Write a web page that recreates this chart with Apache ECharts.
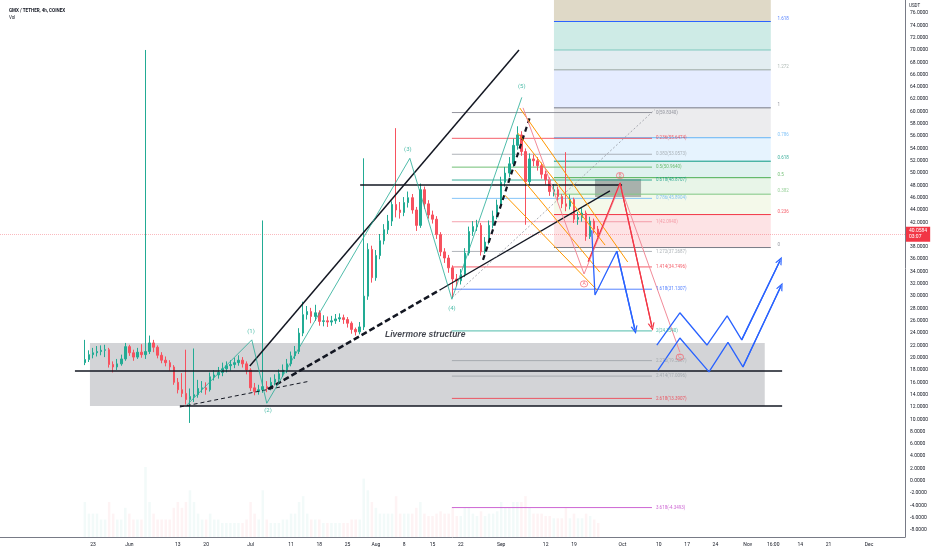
<!DOCTYPE html>
<html><head><meta charset="utf-8">
<script src="https://cdn.jsdelivr.net/npm/echarts@6/dist/echarts.min.js"></script>
<style>html,body{margin:0;padding:0;background:#fff}#c{width:932px;height:550px}</style>
</head><body><div id="c"></div>
<script>
// ---------- DATA ----------
// daily candles, x = days since 1 Jun; first candle on day -11
const firstDay = -11;
const ohlc = [ // [open, close, low, high]
[19.2,19.7,18.8,22.9],[19.7,20.5,19.3,21.2],[20.5,20.8,19.9,21.6],[20.8,21.0,20.2,21.9],[21.0,21.2,20.4,22.0],
[21.2,21.3,20.1,22.1],[21.3,18.9,18.4,21.6],[18.9,18.5,17.6,19.4],[18.5,19.0,18.0,19.8],[19.0,19.8,18.7,20.5],
[19.8,21.8,19.5,22.4],
[21.8,20.8,20.3,22.1],[20.8,20.1,19.5,21.3],[20.1,20.9,19.8,21.6],[20.9,20.5,20.0,22.2],[20.5,21.0,19.8,70.0],
[21.0,22.4,20.6,23.6],[22.4,21.7,20.9,22.9],[21.7,20.4,19.9,22.0],[20.4,19.6,19.1,20.9],[19.6,19.2,18.6,20.2],
[19.2,18.5,17.9,19.6],[18.5,16.0,15.6,18.8],[16.0,14.8,14.2,16.7],[14.8,14.2,13.6,17.5],[14.2,13.2,12.4,21.3],
[13.2,13.7,9.4,15.0],[13.7,14.0,12.8,21.5],[14.0,15.0,13.5,16.4],[15.0,15.1,14.3,16.2],[15.1,14.8,14.0,16.0],
[14.8,16.9,14.5,17.6],[16.9,17.2,16.3,18.0],[17.2,17.6,16.6,18.5],[17.6,18.2,17.0,19.2],[18.2,18.7,17.6,19.4],
[18.7,18.9,17.9,19.6],[18.9,19.2,18.3,20.0],[19.2,19.6,18.7,20.4],[19.6,19.0,18.4,20.1],[19.0,18.0,17.3,19.4],
[18.0,15.1,14.6,18.3],[15.1,14.5,13.9,15.9],[14.5,14.8,14.0,15.6],[14.8,15.3,14.3,42.3],[15.3,15.0,14.4,16.2],
[15.0,16.0,14.7,16.8],[16.0,16.5,15.5,17.3],[16.5,17.4,16.1,18.1],[17.4,18.0,16.9,18.9],[18.0,19.0,17.5,19.8],
[19.0,20.3,18.6,21.0],[20.3,21.0,19.8,21.9],[21.0,24.0,20.6,24.8],[24.0,27.0,23.5,29.1],[27.0,27.5,26.2,28.4],
[27.5,26.7,25.6,28.1],[26.7,27.3,26.0,28.6],[27.3,25.9,25.2,27.7],[25.9,26.0,25.1,26.9],[26.0,25.8,25.0,26.7],
[25.8,26.0,25.2,26.8],[26.0,26.3,25.5,27.1],[26.3,26.5,25.8,27.2],[26.5,26.2,25.5,27.0],[26.2,25.6,24.9,26.6],
[25.6,24.6,23.9,25.9],[24.6,24.2,23.6,24.9],[24.2,25.0,23.8,25.8],[25.0,30.0,24.5,52.4],[30.0,37.6,29.4,38.6],
[37.6,33.0,32.2,38.2],[33.0,36.6,32.5,37.5],[36.6,39.0,36.0,40.1],[39.0,40.8,38.4,41.7],[40.8,42.2,40.1,43.2],
[42.2,44.9,41.4,45.4],[44.9,44.0,42.8,57.3],[44.0,43.6,42.6,45.3],[43.6,45.2,43.0,46.1],[45.2,46.0,44.4,47.0],
[46.0,44.0,43.4,46.6],[44.0,41.5,40.6,44.5],[41.5,47.3,41.1,48.3],[47.3,45.0,44.2,47.8],[45.0,43.2,42.6,45.6],
[43.2,42.5,41.8,43.9],[42.5,40.0,39.3,43.0],[40.0,37.2,36.5,40.4],[37.2,36.2,35.4,37.8],[36.2,34.6,33.8,36.7],
[34.6,32.8,29.8,35.0],[32.8,32.5,31.6,33.6],[32.5,33.5,31.9,34.4],[33.5,37.0,33.1,37.8],[37.0,40.5,36.6,41.3],
[40.5,41.3,39.8,42.2],[41.3,41.5,40.6,42.4],[41.5,37.2,36.6,41.9],[37.2,38.8,36.9,39.6],[38.8,41.5,38.4,42.3],
[41.5,43.0,41.0,43.9],[43.0,44.8,42.5,45.7],[44.8,48.5,44.3,49.4],[48.5,50.0,47.8,51.0],[50.0,51.5,49.3,52.6],
[51.5,54.5,51.0,55.6],[54.5,56.2,53.8,57.6],[56.2,53.5,52.8,56.8],[53.5,48.6,41.6,54.0],[48.6,52.3,48.1,53.2],
[52.3,52.0,51.1,53.0],[52.0,51.2,50.4,52.6],[51.2,49.8,49.1,51.7],[49.8,48.9,48.1,50.4],[48.9,47.0,46.3,49.3],
[47.0,47.3,46.2,48.2],[47.3,46.2,45.5,47.8],[46.2,45.0,44.3,46.6],[45.0,44.6,43.8,53.4],[44.6,45.7,44.1,46.5],
[45.7,42.5,41.9,46.0],[42.5,42.8,41.6,43.7],[42.8,43.5,42.1,44.3],[43.5,39.7,39.0,43.9],[39.7,42.2,39.3,42.9],
[42.2,40.9,40.2,42.6],[40.9,40.06,39.6,41.4]
];
const volumes = [3,2,2,2,1.5,1.5,3,2,1.5,1.5,2.5,
2,1.5,1.5,1.5,6,3,2,1.5,1.5,1.5,
1.5,2.5,3,2.5,3,4,3,2,1.5,1.5,
2,1.5,1.5,1.2,1.2,1.2,1.2,1.2,1.2,1.5,
3,2,1.5,4,1.5,1.2,1.2,1.2,1.5,1.5,
2,2,3,3.5,2,1.5,1.5,1.5,1.2,1.2,
1.2,1.2,1.2,1.2,1.2,1.5,1.5,1.5,5,4,
3,2.5,2,2,2,2,3.5,2,2,2,
2,2.5,3,2,1.8,1.8,2,2.2,2,2,
2.5,1.8,1.8,2.5,2.5,2,1.8,2.2,1.8,2,
2,2.2,3,2.5,2.5,3,3,3,3.5,2.5,
2,2,2,1.8,1.8,1.6,1.6,1.6,2.5,1.6,
2,1.6,1.6,2,1.8,1.5,1.2];
const lastPrice = 40.0584;
const xTickDays = [-9,0,12,19,30,40,47,54,61,68,75,82,92,103,110,122,131,138,145,153,159.3,166,173,183];
const xTickLabels = ['23','Jun','13','20','Jul','11','18','25','Aug','8','15','22','Sep','12','19','Oct','10','17','24','Nov','16:00','14','21','Dec'];
const yTicks = [-8,-6,-4,-2,0,2,4,6,8,10,12,14,16,18,20,22,24,26,28,30,32,34,36,38,40,42,44,46,48,50,52,54,56,58,60,62,64,66,68,70,72,74,76];

// Fibonacci retracement (right box): low -> high
const fibR = {low: 37.9, high: 60.6, x0: 105.05, x1: 158.7, labelX: 160.0};
const fibRLevels = [0,0.236,0.382,0.5,0.618,0.786,1,1.272,1.414,1.618,2.618];
const fibRLabels = ['0','0.236','0.382','0.5','0.618','0.786','1','1.272','','1.618',''];
// Trend based fib extension (left): from start going down by step
const fibL = {start: 59.834, step: 17.74, x0: 79.8, x1: 129.3, labelX: 129.9};
const fibLLevels = [0,0.236,0.382,0.5,0.618,0.786,1,1.272,1.414,1.618,2,2.272,2.414,2.618,3.618];

// Elliott waves
const wavePts = [[14.2,12.3],[30.3,22.9],[34.0,12.6],[69.4,52.4],[79.8,29.5],[97.1,62.3]];
const waveLabels = [['(1)',30.1,24.3],['(2)',34.3,11.4],['(3)',68.9,53.9],['(4)',79.8,28.0],['(5)',97.1,64.0]];
const abcLabels = [['A',112.5,32.0],['B',121.4,49.6],['C',136.2,20.1]];

// ---------- CHART ----------
const chev = 'path://M0,10 L5,0 L10,10 L8.2,10 L5,3.6 L1.8,10 Z';
const UP='#22ab94', DN='#f7525f', BLUE='#2962ff', RED='#f23645', PINK='#f28b99', ORANGE='#ff9800', BLK='#131722';
const series = [];
const hidden = {color:'rgba(0,0,0,0)'};

function poly(pts, color, width, type, z, arrow){
  const s = {type:'line', data:pts, symbol:'none', silent:true, z:z||6,
    lineStyle:{color:color, width:width, type:type||'solid'}};
  if(arrow){
    s.markLine = {symbol:['none',chev], symbolSize:[7,8], silent:true, animation:false,
      label:{show:false}, lineStyle:{color:color, width:width, type:'solid'},
      data:[[{coord:pts[pts.length-2]},{coord:pts[pts.length-1]}]]};
  }
  series.push(s);
}
function texts(items, z){
  series.push({type:'scatter', symbolSize:1, itemStyle:hidden, silent:true, z:z||9,
    data: items.map(t=>({value:[t.x,t.y], label:Object.assign({show:true, formatter:t.text, position:t.pos||'inside',
      distance:1, fontFamily:'Roboto', fontSize:t.size||5, color:t.color||BLK}, t.style||{})}))});
}

// background areas
const areas = [];
areas.push([{coord:[-9.75,22.39], itemStyle:{color:'rgba(120,123,134,0.33)'}},{coord:[157.2,12.15]}]);
const fibRBand = ['rgba(242,54,69,0.14)','rgba(205,228,160,0.22)','rgba(76,175,80,0.13)','rgba(8,153,129,0.13)',
  'rgba(100,181,246,0.16)','rgba(120,123,134,0.14)','rgba(41,98,255,0.12)','rgba(110,165,185,0.2)',
  'rgba(8,153,129,0.2)','rgba(150,130,70,0.3)'];
for(let i=0;i<fibRLevels.length-1;i++){
  const ya = fibR.low + fibRLevels[i]*(fibR.high-fibR.low);
  const yb = fibR.low + fibRLevels[i+1]*(fibR.high-fibR.low);
  areas.push([{coord:[fibR.x0,ya], itemStyle:{color:fibRBand[i]}},{coord:[fibR.x1,yb]}]);
}
areas.push([{coord:[115.2,49.03], itemStyle:{color:'rgba(90,95,100,0.45)'}},{coord:[126.6,46.1]}]);
series.push({type:'line', data:[], z:1, markArea:{silent:true, data:areas}});

// volume
series.push({type:'bar', xAxisIndex:0, yAxisIndex:1, barWidth:2.5, silent:true, z:2,
  data: volumes.map((v,i)=>({value:[firstDay+i, v], itemStyle:{color: ohlc[i][1]>=ohlc[i][0]?'rgba(34,171,148,0.06)':'rgba(242,54,69,0.06)'}}))});

// candles
series.push({type:'candlestick', data: ohlc.map((r,i)=>[firstDay+i, r[0], r[1], r[2], r[3]]),
  encode:{x:0, y:[1,2,3,4]}, barWidth:2, z:5, silent:true,
  itemStyle:{color:UP, color0:DN, borderColor:UP, borderColor0:DN, borderWidth:1},
  markLine:{symbol:'none', silent:true, lineStyle:{color:'rgba(242,54,69,0.35)', width:1, type:'dotted'},
    label:{position:'end', formatter: lastPrice.toFixed(4)+'\n03:07', backgroundColor:RED, color:'#fff',
      fontSize:5, padding:[2,3,1,3], distance:1, lineHeight:6, fontFamily:'Roboto'},
    data:[{yAxis:lastPrice}]}});

// fib right lines + labels
const fibRColors = ['#787b86',RED,'#81c784','#4caf50','#089981','#64b5f6','#787b86','#9aa7a0','#7fc8bd',BLUE,'#b0a070'];
const fibRTexts = [];
fibRLevels.forEach((l,i)=>{
  const y = fibR.low + l*(fibR.high-fibR.low);
  poly([[fibR.x0,y],[fibR.x1,y]], fibRColors[i], 1, 'solid', 3);
  if(fibRLabels[i]) fibRTexts.push({text:fibRLabels[i], x:fibR.labelX, y:y+0.5, pos:'right', color:fibRColors[i], size:4.5});
});
texts(fibRTexts);

// fib left lines + labels
const fibLColors = ['#787b86',RED,'#9aa0a6','#4caf50','#089981','#64b5f6',PINK,'#9aa0a6',RED,BLUE,'#22ab94','#9aa0a6','#9aa0a6',RED,'#c040c8'];
const fibLTexts = [];
fibLLevels.forEach((l,i)=>{
  const y = fibL.start - l*fibL.step;
  poly([[fibL.x0,y],[fibL.x1,y]], fibLColors[i], 0.8, 'solid', 3);
  fibLTexts.push({text:l+'('+y.toFixed(4)+')', x:fibL.labelX, y:y, pos:'right', color:fibLColors[i], size:4.5});
});
texts(fibLTexts);

// structure lines
poly([[-13.46,17.84],[161.5,17.84]], BLK, 1.5);
poly([[12.5,12.15],[161.5,12.15]], BLK, 1.5);
poly([[29.8,18.67],[96.4,70.0]], BLK, 1.5);
poly([[12.5,11.99],[44.7,16.2]], BLK, 1, [4,3]);
poly([[34.3,14.91],[76.8,31.0]], BLK, 2.5, [6,3]);
poly([[76.8,31.0],[118.9,47.1]], BLK, 1.3);
poly([[57.1,48.06],[121.9,48.06]], BLK, 1.5);
poly([[87.5,35.9],[99.1,59.1]], BLK, 2.2, [5,4]);
poly([[79.8,29.7],[130.0,60.3]], '#9598a1', 0.8, [2,2]);
// waves
poly(wavePts, '#22ab94', 0.8, 'solid', 7);
// orange channel
poly([[96.6,60.57],[123.3,35.55]], ORANGE, 1, 'solid', 7);
poly([[96.1,56.5],[117.7,38.3]], ORANGE, 1, 'solid', 7);
poly([[95.4,50.5],[116.4,33.9]], ORANGE, 1, 'solid', 7);
poly([[92.9,46.4],[115.7,31.0]], ORANGE, 1, 'solid', 7);
// ABC projections
poly([[97.4,60.6],[112.5,33.6],[121.4,48.06],[136.2,20.9]], PINK, 1, 'solid', 7);
poly([[113.5,35.6],[121.4,48.4],[129.3,25.0]], RED, 1.2, 'solid', 8, true);
poly([[114.4,40.7],[115.2,30.2],[120.6,37.3],[125.1,24.5]], BLUE, 1.3, 'solid', 8, true);
poly([[130.5,22.06],[136.2,27.3],[142.9,22.06],[147.9,26.8],[151.5,22.9],[161.0,35.8]], BLUE, 1.3, 'solid', 8, true);
poly([[130.8,18.0],[136.2,23.2],[143.4,17.7],[148.1,22.5],[151.8,18.5],[161.2,31.6]], BLUE, 1.3, 'solid', 8, true);

// texts
texts(waveLabels.map(w=>({text:w[0], x:w[1], y:w[2], color:'#22ab94', size:6})), 10);
texts(abcLabels.map(w=>({text:w[0], x:w[1], y:w[2], color:DN, size:5,
  style:{borderColor:DN, borderWidth:0.8, borderRadius:5, padding:[1,2,0,2]}})), 10);
texts([{text:'Livermore structure', x:73.2, y:23.7, size:8.5, style:{fontStyle:'italic', fontWeight:'bold', fontFamily:'Liberation Sans'}}], 10);

const chart = echarts.init(document.getElementById('c'), null, {renderer:'canvas'});
chart.setOption({
  animation:false,
  backgroundColor:'#ffffff',
  title:{text:'GMX / TETHER, 4h, COINEX', left:4, top:3, itemGap:2,
    textStyle:{fontSize:4.5, fontWeight:'bold', color:BLK, fontFamily:'Roboto'},
    subtext:'Vol', subtextStyle:{fontSize:4.5, color:BLK, fontFamily:'Roboto'}},
  graphic:[{type:'text', left:909, top:3, style:{text:'USDT', fontSize:4.5, fill:BLK, fontFamily:'Roboto'}}],
  grid:{left:0, right:27, top:0, bottom:13, containLabel:false},
  xAxis:{type:'value', min:-32.0, max:191.9,
    axisLine:{show:true, onZero:false, lineStyle:{color:'#787b86', width:1}}, axisTick:{show:false}, splitLine:{show:false},
    axisLabel:{customValues:xTickDays, fontSize:5, color:BLK, margin:5, fontFamily:'Roboto',
      formatter:(v)=>{let b=0; xTickDays.forEach((d,i)=>{if(Math.abs(d-v)<Math.abs(xTickDays[b]-v)) b=i;}); return xTickLabels[b];}}},
  yAxis:[{type:'value', position:'right', min:-9.13, max:78.12,
    axisLine:{show:true, onZero:false, lineStyle:{color:'#787b86', width:1}}, axisTick:{show:false}, splitLine:{show:false},
    axisLabel:{customValues:yTicks, fontSize:5, color:BLK, margin:5, fontFamily:'Roboto',
      formatter:(v)=>v.toFixed(4)}},
    {type:'value', min:0, max:46, show:false}],
  series: series
});
</script></body></html>
